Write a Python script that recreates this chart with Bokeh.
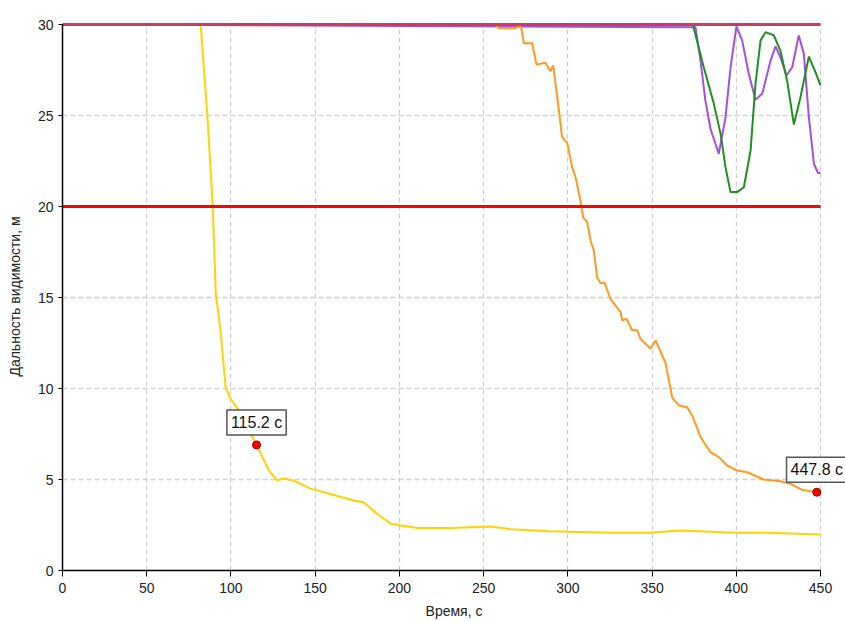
from bokeh.plotting import figure
from bokeh.models import Range1d, SingleIntervalTicker, Label, ColumnDataSource, BoxAnnotation
from bokeh.embed import file_html
from bokeh.resources import INLINE

# ---- data ----
yellow_x = [0, 82, 86, 89.2, 91, 93.8, 96.8, 99.7, 104.7, 107.7, 115.2, 122.5, 127.4, 131.3, 137, 147.2,
            159, 172.8, 178.8, 186.8, 194.7, 200.7, 210.5, 230.3, 254, 266, 289.7, 325, 349, 366.9,
            398.4, 418, 450]
yellow_y = [30, 30, 25, 20, 15.2, 13.2, 10.1, 9.45, 8.8, 8.24, 6.9, 5.5, 4.95, 5.05, 4.95, 4.5,
            4.2, 3.85, 3.75, 3.12, 2.58, 2.47, 2.33, 2.33, 2.42, 2.27, 2.16, 2.07, 2.07, 2.2,
            2.07, 2.07, 1.98]

orange_x = [0, 257, 259, 269, 272, 273.9, 278.8, 281.4, 286.7, 289.7, 291.3, 294, 296.6, 299.6, 302.6,
            304.6, 307.5, 309.1, 311.5, 313.5, 315.4, 317.4, 319.4, 321.8, 325.3, 331.3, 332.3, 334.8,
            338.2, 341.2, 343.1, 349.1, 352.1, 358, 360, 362, 365.9, 370.8, 373.8, 378.8, 384.7, 389.6,
            394.6, 400.5, 406.4, 416.3, 426, 432.2, 439.1, 447.8]
orange_y = [30, 30, 29.8, 29.8, 30, 28.97, 28.97, 27.8, 27.9, 27.43, 27.75, 25.8, 23.8, 23.5, 22.16,
            21.6, 20.33, 19.4, 19.14, 18.13, 17.58, 16.1, 15.8, 15.8, 14.93, 14.2, 13.74, 13.83,
            13.2, 13.2, 12.73, 12.18, 12.64, 11.4, 10.44, 9.5, 9.07, 8.97, 8.52, 7.33, 6.5, 6.23,
            5.77, 5.49, 5.4, 5.0, 4.9, 4.76, 4.43, 4.3]

green_x = [0, 374.2, 380.7, 386.7, 390.7, 393.6, 396.6, 400.5, 404.5, 408.5, 411.4, 414.4, 417.4,
           422.3, 426.2, 430.2, 434.2, 438.1, 443.1, 447, 450]
green_y = [30, 30, 27.65, 25.64, 23.99, 22.16, 20.79, 20.79, 21.06, 23.08, 26.74, 29.12, 29.58,
           29.4, 28.57, 26.9, 24.5, 26.0, 28.24, 27.38, 26.65]

purple_x = [0, 375.8, 378.8, 381.7, 384.7, 389.6, 393.6, 396.6, 400.1, 403.5, 407.4, 411.4, 415.4,
            420.3, 423.3, 426.2, 429.8, 433.2, 437.1, 440.1, 443.1, 446.1, 448.5, 450]
purple_y = [30, 29.85, 27.97, 25.8, 24.27, 22.9, 24.9, 27.65, 29.9, 29.12, 27.3, 25.86, 26.2,
            28.0, 28.8, 28.2, 27.2, 27.65, 29.4, 28.4, 24.9, 22.35, 21.84, 21.86]

threshold_levels = [20, 30]
marker_x = [115.2, 447.8]
marker_y = [6.9, 4.3]
marker_labels = ["115.2 с", "447.8 с"]

x_label = "Время, с"
y_label = "Дальность видимости, м"

X_MAX, Y_MAX = 450, 30
FONT = "Liberation Sans"

W, H = 845, 621
LEFT, RIGHT_PX, TOP_PX, BOTTOM_PX = 62, 820, 24, 570
# frame extends to the right edge so the end label is not clipped; axis keeps bounds 0..450
x_end = X_MAX * (W - LEFT) / (RIGHT_PX - LEFT)
top_pad_px = 2
y_end = Y_MAX * (BOTTOM_PX - TOP_PX + top_pad_px) / (BOTTOM_PX - TOP_PX)

p = figure(width=W, height=H, output_backend="svg", toolbar_location=None,
           x_range=Range1d(0, x_end), y_range=Range1d(0, y_end),
           min_border_left=LEFT, min_border_right=0,
           min_border_top=TOP_PX - top_pad_px, min_border_bottom=H - BOTTOM_PX)
p.outline_line_color = None
p.background_fill_color = "white"

for ax in (p.xaxis[0], p.yaxis[0]):
    ax.axis_line_color = "black"
    ax.axis_line_width = 1.5
    ax.major_tick_line_color = "black"
    ax.major_tick_in = 0
    ax.minor_tick_line_color = None
    ax.major_label_text_font = FONT
    ax.major_label_text_font_size = "14px"
    ax.major_label_text_color = "#222222"
    ax.axis_label_text_font = FONT
    ax.axis_label_text_font_size = "14px"
    ax.axis_label_text_font_style = "normal"
    ax.axis_label_text_color = "#222222"

p.xaxis.ticker = SingleIntervalTicker(interval=50)
p.yaxis.ticker = SingleIntervalTicker(interval=5)
p.xaxis.bounds = (0, X_MAX)
p.yaxis.bounds = (0, Y_MAX)
p.xaxis.axis_label = x_label
p.yaxis.axis_label = y_label
p.xaxis.major_tick_out = 6
p.yaxis.major_tick_out = 4
p.xaxis.major_label_standoff = 6
p.xaxis.axis_label_standoff = 7
p.yaxis.major_label_standoff = 5
p.yaxis.axis_label_standoff = 12

p.grid.grid_line_color = "#d0d0d0"
p.grid.grid_line_dash = "5 3"
p.grid.grid_line_width = 1.3

# blank out grid beyond the data area
p.add_layout(BoxAnnotation(left=X_MAX + 0.5, fill_color="white", fill_alpha=1.0,
                           line_color=None, level="underlay"))

lw = 2
p.line(purple_x, purple_y, line_color="#a64ee0", line_width=lw)
p.line(green_x, green_y, line_color="#1f8f1f", line_width=lw)
p.line(orange_x, orange_y, line_color="#ff9a1e", line_width=lw)
p.line(yellow_x, yellow_y, line_color="#ffd200", line_width=lw)

# thresholds
p.line([0, X_MAX], [threshold_levels[0]] * 2, line_color="#ff0000", line_width=3)
p.line([0, X_MAX], [threshold_levels[1]] * 2, line_color="#cc3a5e", line_width=3)

src = ColumnDataSource(dict(x=marker_x, y=marker_y))
p.scatter("x", "y", source=src, size=8, fill_color="#ff0000", line_color="#8b0000", line_width=1)

for mx, my, txt in zip(marker_x, marker_y, marker_labels):
    p.add_layout(Label(x=mx, y=my, text=txt, text_align="center", text_baseline="bottom",
                       y_offset=10, padding=4, text_font=FONT, text_font_size="16px",
                       text_color="#111111", background_fill_color="white",
                       border_line_color="#555555", border_line_width=1.5))

open("out.html", "w").write(file_html(p, INLINE))
